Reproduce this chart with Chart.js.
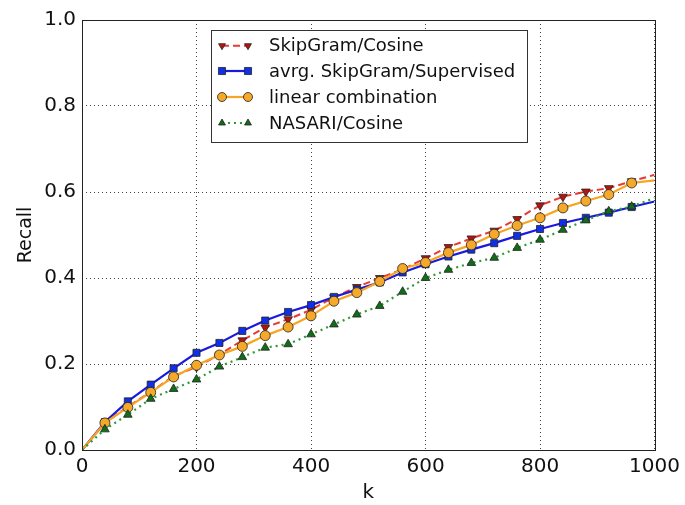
<!DOCTYPE html>
<html>
<head>
<meta charset="utf-8">
<script src="https://cdn.jsdelivr.net/npm/chart.js@4"></script>
<style>
  html, body { margin: 0; padding: 0; background: #fff; }
  #wrap { width: 685px; height: 505px; }
</style>
</head>
<body>
<div id="wrap"><canvas id="recallChart" width="685" height="505"></canvas></div>
<script>
// k values (markers every 40, plus the start/end of the curves)
const kValues = [0, 40, 80, 120, 160, 200, 240, 280, 320, 360, 400, 440, 480, 520, 560, 600, 640, 680, 720, 760, 800, 840, 880, 920, 960, 1000];

const skipGramCosine = [0, 0.063, 0.101, 0.135, 0.172, 0.193, 0.222, 0.255, 0.285, 0.304, 0.326, 0.355, 0.379, 0.400, 0.420, 0.446, 0.472, 0.492, 0.510, 0.537, 0.569, 0.589, 0.601, 0.609, 0.625, 0.640];
const avrgSupervised = [0, 0.065, 0.113, 0.152, 0.190, 0.226, 0.249, 0.277, 0.301, 0.321, 0.337, 0.356, 0.373, 0.390, 0.413, 0.432, 0.450, 0.466, 0.481, 0.498, 0.514, 0.528, 0.540, 0.552, 0.565, 0.578];
const linearCombination = [0, 0.063, 0.099, 0.134, 0.170, 0.197, 0.221, 0.241, 0.266, 0.286, 0.312, 0.346, 0.366, 0.392, 0.422, 0.436, 0.459, 0.477, 0.502, 0.522, 0.540, 0.563, 0.579, 0.594, 0.621, 0.627];
const nasariCosine = [0, 0.048, 0.082, 0.119, 0.142, 0.164, 0.194, 0.216, 0.238, 0.246, 0.269, 0.292, 0.315, 0.335, 0.368, 0.400, 0.419, 0.435, 0.447, 0.470, 0.489, 0.512, 0.534, 0.555, 0.566, 0.586];

const xTicks = [0, 200, 400, 600, 800, 1000];
const yTicks = [0.0, 0.2, 0.4, 0.6, 0.8, 1.0];

function pts(values) {
  return kValues.map((k, i) => ({ x: k, y: values[i] }));
}
// no marker on the first and last point (k=0, k=1000)
function radii(r) {
  return kValues.map(k => (k === 0 || k === 1000) ? 0 : r);
}

const font = "'DejaVu Sans', sans-serif";

// matplotlib style legend drawn inside the plot area
const boxLegend = {
  id: 'boxLegend',
  afterDatasetsDraw(chart) {
    const ctx = chart.ctx;
    const x0 = 211, y0 = 30, w = 316, h = 112;
    ctx.save();
    ctx.fillStyle = '#fff';
    ctx.fillRect(x0, y0, w, h);
    ctx.strokeStyle = '#333';
    ctx.lineWidth = 1;
    ctx.strokeRect(x0 + 0.5, y0 + 0.5, w, h);
    const rows = [45.7, 71, 97, 123];
    chart.data.datasets.forEach((ds, i) => {
      const y = rows[i];
      ctx.save();
      ctx.strokeStyle = ds.borderColor;
      ctx.lineWidth = ds.borderWidth;
      ctx.setLineDash(ds.borderDash || []);
      ctx.beginPath();
      ctx.moveTo(222, y);
      ctx.lineTo(248, y);
      ctx.stroke();
      ctx.restore();
      ctx.fillStyle = ds.pointBackgroundColor;
      ctx.strokeStyle = ds.pointBorderColor;
      ctx.lineWidth = ds.pointBorderWidth;
      const opt = { pointStyle: ds.pointStyle, rotation: ds.pointRotation || 0, radius: ds.legendRadius, borderWidth: ds.pointBorderWidth };
      Chart.helpers.drawPoint(ctx, opt, 222, y);
      Chart.helpers.drawPoint(ctx, opt, 248, y);
      ctx.fillStyle = '#111';
      ctx.font = '18px ' + font;
      ctx.textBaseline = 'middle';
      ctx.fillText(ds.label, 269, y + 1);
    });
    ctx.restore();
  }
};

// solid frame round the whole plot area
const frame = {
  id: 'frame',
  afterDraw(chart) {
    const a = chart.chartArea;
    const ctx = chart.ctx;
    ctx.save();
    ctx.strokeStyle = '#222';
    ctx.lineWidth = 1;
    ctx.strokeRect(Math.round(a.left) + 0.5, Math.round(a.top) + 0.5, Math.round(a.right - a.left), Math.round(a.bottom - a.top));
    ctx.restore();
  }
};

new Chart(document.getElementById('recallChart'), {
  type: 'line',
  data: {
    datasets: [
      {
        label: 'SkipGram/Cosine',
        data: pts(skipGramCosine),
        borderColor: '#e83a32',
        borderWidth: 2,
        borderDash: [7, 4],
        pointStyle: 'triangle',
        pointRotation: 180,
        pointRadius: radii(5),
        legendRadius: 4,
        pointBackgroundColor: '#b8140f',
        pointBorderColor: '#222',
        pointBorderWidth: 0.8,
        order: 4
      },
      {
        label: 'avrg. SkipGram/Supervised',
        data: pts(avrgSupervised),
        borderColor: '#1a1adf',
        borderWidth: 2.2,
        pointStyle: 'rect',
        pointRadius: radii(5),
        legendRadius: 5,
        pointBackgroundColor: '#1030e8',
        pointBorderColor: '#222',
        pointBorderWidth: 0.8,
        order: 3
      },
      {
        label: 'linear combination',
        data: pts(linearCombination),
        borderColor: '#f7a521',
        borderWidth: 2.2,
        pointStyle: 'circle',
        pointRadius: radii(5),
        legendRadius: 4.5,
        pointBackgroundColor: '#f4a92a',
        pointBorderColor: '#222',
        pointBorderWidth: 0.8,
        order: 2
      },
      {
        label: 'NASARI/Cosine',
        data: pts(nasariCosine),
        borderColor: '#2f9a34',
        borderWidth: 2.2,
        borderDash: [2, 4],
        pointStyle: 'triangle',
        pointRadius: radii(5),
        legendRadius: 4,
        pointBackgroundColor: '#0f6e17',
        pointBorderColor: '#222',
        pointBorderWidth: 0.8,
        order: 1
      }
    ]
  },
  options: {
    responsive: false,
    animation: false,
    layout: { padding: { left: 15, right: 30, top: 20, bottom: 0 } },
    elements: { line: { tension: 0 } },
    plugins: {
      legend: { display: false },
      tooltip: { enabled: false }
    },
    scales: {
      x: {
        type: 'linear',
        min: 0,
        max: 1000,
        afterBuildTicks(scale) { scale.ticks = xTicks.map(v => ({ value: v })); },
        afterFit(scale) { scale.height = 55; },
        border: { display: false, dash: [1, 3] },
        grid: { color: '#444', lineWidth: 1, drawTicks: false },
        ticks: { padding: 5, color: '#111', font: { family: font, size: 20 }, maxRotation: 0, callback: v => String(v) },
        title: { display: true, text: 'k', color: '#111', font: { family: font, size: 20 }, padding: { top: 0, bottom: 0 } }
      },
      y: {
        min: 0,
        max: 1,
        afterBuildTicks(scale) { scale.ticks = yTicks.map(v => ({ value: v })); },
        afterFit(scale) { scale.width = 67; },
        border: { display: false, dash: [1, 3] },
        grid: { color: '#444', lineWidth: 1, drawTicks: false },
        ticks: { padding: 6, color: '#111', font: { family: font, size: 20 }, callback: v => v.toFixed(1) },
        title: { display: true, text: 'Recall', color: '#111', font: { family: font, size: 19 }, padding: { top: 0, bottom: 0 } }
      }
    }
  },
  plugins: [boxLegend, frame]
});
</script>
</body>
</html>
